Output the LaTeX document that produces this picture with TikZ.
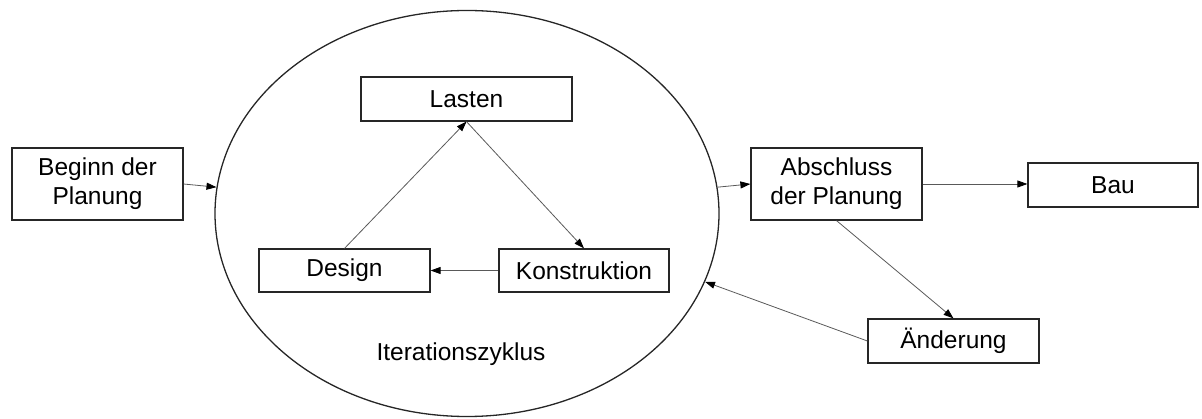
\documentclass[tikz,border=0pt]{standalone}
\usepackage{fontspec}
\setmainfont{Liberation Sans}
\usetikzlibrary{shapes.geometric,arrows.meta}
\begin{document}
\begin{tikzpicture}[x=1pt,y=-1pt,
  txt/.style={font=\fontsize{24.5}{29}\selectfont},
  box/.style={txt,draw=black!85,line width=1.2pt,rectangle,inner sep=0pt,align=center},
  arr/.style={draw=black!65,line width=0.8pt,
    -{Triangle[length=10pt,width=7pt,fill=black,color=black]}}]
\useasboundingbox (0,0) rectangle (1202,419);
% the iteration cycle
\node[ellipse,draw=black!85,line width=1.3pt,minimum width=504pt,minimum height=406pt,inner sep=0pt] (ell) at (467,213.5) {};
\node[txt] (itz) at (461,354) {Iterationszyklus};
% boxes
\node[box,minimum width=171pt,minimum height=72pt] (beg) at (97.5,184) {Beginn der\\Planung};
\node[box,minimum width=211pt,minimum height=44pt] (las) at (466.5,99) {Lasten};
\node[box,minimum width=171pt,minimum height=43pt] (des) at (344.5,270.5) {Design};
\node[box,minimum width=170pt,minimum height=43pt] (kon) at (584,270.5) {Konstruktion};
\node[box,minimum width=171pt,minimum height=72pt] (abs) at (836.5,184) {Abschluss\\der Planung};
\node[box,minimum width=170pt,minimum height=44pt] (bau) at (1113,185) {Bau};
\node[box,minimum width=171pt,minimum height=44pt] (aen) at (953.5,341) {Änderung};
% connectors
\draw[arr] (beg.east) -- (ell.174);
\draw[arr] (des.north) -- (las.south);
\draw[arr] (las.south) -- (kon.north);
\draw[arr] (kon.west) -- (des.east);
\draw[arr] (ell.6) -- (abs.west);
\draw[arr] (abs.east) -- (abs.east -| bau.west);
\draw[arr] (abs.south) -- (aen.north);
\draw[arr] (aen.west) -- (ell.-16);
\end{tikzpicture}
\end{document}
